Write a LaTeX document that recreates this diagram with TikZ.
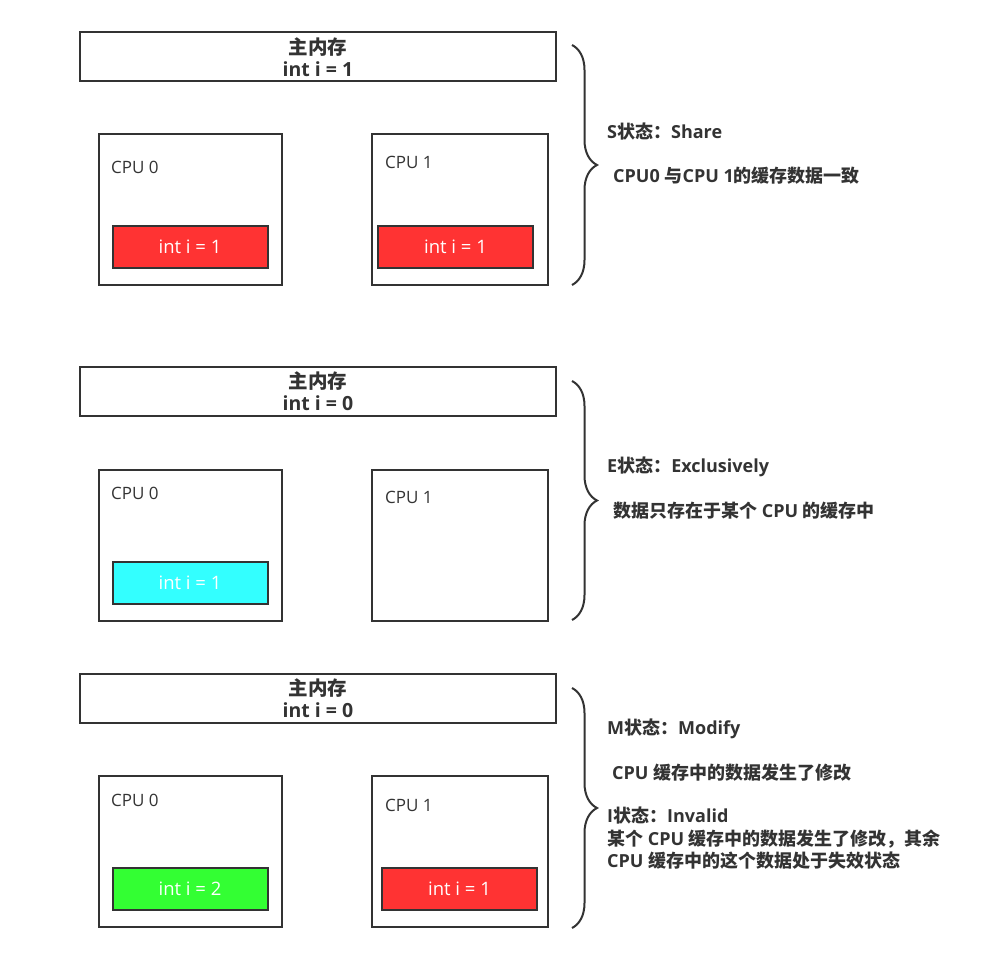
\documentclass[tikz,border=0pt]{standalone}
\usepackage{fontspec}
\setmainfont{Open Sans}
\newfontfamily\cjk{Noto Sans CJK SC}
\usetikzlibrary{decorations.pathreplacing}
\definecolor{edgegray}{HTML}{333333}
\definecolor{txtgray}{HTML}{333333}
\definecolor{cred}{HTML}{FF3333}
\definecolor{ccyan}{HTML}{33FFFF}
\definecolor{cgreen}{HTML}{33FF33}

\begin{document}
\begin{tikzpicture}[x=1pt,y=-1pt,
    mem/.style={draw=edgegray,line width=2pt,minimum width=476pt,minimum height=49pt,inner sep=0pt,
                align=center,text=txtgray,font=\bfseries\fontsize{19.5}{22.5}\selectfont},
    cpu/.style={draw=edgegray,line width=2pt,minimum height=151pt,inner sep=0pt},
    cache/.style={draw=edgegray,line width=2pt,minimum width=155pt,minimum height=42pt,inner sep=0pt,
                  text=white,font=\fontsize{18.5}{20}\selectfont},
    lbl/.style={anchor=west,inner sep=0pt,text=txtgray,font=\fontsize{17}{20}\selectfont},
    note/.style={anchor=west,inner sep=0pt,text=txtgray,align=left,font=\bfseries\fontsize{18}{22.5}\selectfont},
    brc/.style={draw=edgegray,line width=2pt,decorate,decoration={brace,amplitude=25pt}}]
  \useasboundingbox (0,0) rectangle (983,960);

  % S state
  \node[mem] (mem1) at (318,57) {{\cjk 主内存}\\int i = 1};
  \node[cpu,minimum width=183pt] (cpu10) at (190,210) {};
  \node[lbl] (lab10) at (111,167) {CPU 0};
  \node[cache,fill=cred] (c10) at (190,247) {int i = 1};
  \node[cpu,minimum width=176pt] (cpu11) at (460,210) {};
  \node[lbl] (lab11) at (385,162) {CPU 1};
  \node[cache,fill=cred] (c11) at (455.5,247) {int i = 1};
  \coordinate (b1t) at (572,45);
  \coordinate (b1b) at (572,285);
  \draw[brc] (b1t) -- (b1b);
  \node[note] (s1) at (607,132) {S{\cjk 状态：}Share};
  \node[note] (s2) at (613,176) {CPU0 {\cjk 与}CPU 1{\cjk 的缓存数据一致}};

  % E state
  \node[mem] (mem2) at (318,391) {{\cjk 主内存}\\int i = 0};
  \node[cpu,minimum width=183pt] (cpu20) at (190,545.5) {};
  \node[lbl] (lab20) at (111,493) {CPU 0};
  \node[cache,fill=ccyan] (c20) at (190,582.5) {int i = 1};
  \node[cpu,minimum width=176pt] (cpu21) at (460,545.5) {};
  \node[lbl] (lab21) at (385,497.5) {CPU 1};
  \coordinate (b2t) at (572,381);
  \coordinate (b2b) at (572,620);
  \draw[brc] (b2t) -- (b2b);
  \node[note] (e1) at (607,467) {E{\cjk 状态：}Exclusively};
  \node[note] (e2) at (613,511) {{\cjk 数据只存在于某个} CPU {\cjk 的缓存中}};

  % M / I state
  \node[mem] (mem3) at (318,698) {{\cjk 主内存}\\int i = 0};
  \node[cpu,minimum width=183pt] (cpu30) at (190,851.5) {};
  \node[lbl] (lab30) at (111,800) {CPU 0};
  \node[cache,fill=cgreen] (c30) at (190,889) {int i = 2};
  \node[cpu,minimum width=176pt] (cpu31) at (460,851.5) {};
  \node[lbl] (lab31) at (385,805) {CPU 1};
  \node[cache,fill=cred] (c31) at (459.5,889) {int i = 1};
  \coordinate (b3t) at (572,688);
  \coordinate (b3b) at (572,928);
  \draw[brc] (b3t) -- (b3b);
  \node[note] (m1) at (607,729) {M{\cjk 状态：}Modify};
  \node[note] (m2) at (612,773) {CPU {\cjk 缓存中的数据发生了修改}};
  \node[note] (i1) at (607,838.5) {I{\cjk 状态：}Invalid\\
    {\cjk 某个} CPU {\cjk 缓存中的数据发生了修改，其余}\\
    CPU {\cjk 缓存中的这个数据处于失效状态}};
\end{tikzpicture}
\end{document}
